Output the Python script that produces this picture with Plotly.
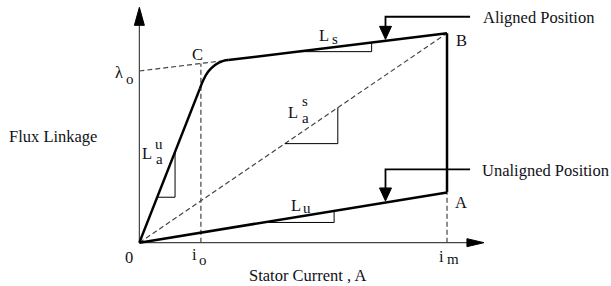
import plotly.graph_objects as go

# ---------------- data (schematic units) ----------------
i_o = 2.0          # current at knee point C
i_m = 10.0         # maximum current
lambda_o = 8.2     # intercept of saturated aligned slope
flux_B = 10.0      # aligned flux at i_m
flux_A = 2.4       # unaligned flux at i_m

# aligned magnetisation curve: linear part, knee, saturated part
lin_x = [0.0, 1.97]
lin_y = [0.0, 7.37]
knee_x = [1.97, 2.08, 2.24, 2.46, 2.73, 2.89]
knee_y = [7.37, 7.77, 8.17, 8.49, 8.68, 8.72]
sat_x = [2.89, i_m]
sat_y = [8.72, flux_B]

x_axis_end = 11.2
y_axis_end = 11.24

# slope-triangle spans along each line (x start, x end)
tri_lau = [0.58, 1.16]
tri_las = [4.73, 6.45]
tri_ls = [5.13, 7.55]
tri_lu = [4.02, 6.33]

# pointer arrows (x of drop, x of label end, y of horizontal leader)
ptr_x = 8.0
ptr_end = 10.75
ptr_aligned_y = 10.79
ptr_unaligned_y = 3.5

# ---------------- layout scale ----------------
W, H = 611, 286
X_RANGE = [-4.53, 15.33]
Y_RANGE = [-2.07, 11.59]
PX_X = W / (X_RANGE[1] - X_RANGE[0])
PX_Y = H / (Y_RANGE[1] - Y_RANGE[0])

FONT = "Liberation Serif, Times New Roman, serif"
INK = "#111118"
GRAY = "#444444"

fig = go.Figure()


def line(xs, ys, width=2.5, color="#000000", dash=None, shape="linear"):
    fig.add_trace(go.Scatter(x=xs, y=ys, mode="lines",
                             line=dict(color=color, width=width, dash=dash, shape=shape),
                             hoverinfo="skip", showlegend=False))


def head(tx, ty, ux, uy, length, width, color="#000000"):
    # ux, uy: direction in pixel space (y up); length/width in px
    bx, by = -ux * length, -uy * length
    px_, py_ = -uy * width / 2, ux * width / 2
    xs = [tx, tx + (bx + px_) / PX_X, tx + (bx - px_) / PX_X, tx]
    ys = [ty, ty + (by + py_) / PX_Y, ty + (by - py_) / PX_Y, ty]
    fig.add_trace(go.Scatter(x=xs, y=ys, mode="lines", fill="toself",
                             fillcolor=color, line=dict(color=color, width=1),
                             hoverinfo="skip", showlegend=False))


def on_line(x0, y0, x1, y1, x):
    return y0 + (y1 - y0) * (x - x0) / (x1 - x0)


def slope_tri(x0, y0, x1, y1, span):
    xa, xb = span
    ya, yb = on_line(x0, y0, x1, y1, xa), on_line(x0, y0, x1, y1, xb)
    line([xa, xb, xb], [ya, ya, yb], width=1, color="#000000")


# axes
line([0, x_axis_end - 17 / PX_X], [0, 0], width=1.2, color=GRAY)
line([0, 0], [0, y_axis_end - 18 / PX_Y], width=1.2, color=GRAY)
head(x_axis_end, 0, 1, 0, 17, 8)
head(0, y_axis_end, 0, 1, 18, 10)

# dashed construction lines
DASH = "5px,3px"
lam_c = on_line(sat_x[0], sat_y[0], sat_x[1], sat_y[1], i_o)
line([0, sat_x[0]], [lambda_o, sat_y[0]], width=1.2, color=GRAY, dash=DASH)
line([i_o, i_o], [0, lam_c], width=1.2, color=GRAY, dash=DASH)
line([0, i_m], [0, flux_B], width=1.2, color=GRAY, dash=DASH)
line([i_m, i_m], [0, flux_A], width=1.2, color=GRAY, dash=DASH)

# slope triangles
slope_tri(lin_x[0], lin_y[0], lin_x[1], lin_y[1], tri_lau)
slope_tri(0, 0, i_m, flux_B, tri_las)
slope_tri(sat_x[0], sat_y[0], sat_x[1], sat_y[1], tri_ls)
slope_tri(0, 0, i_m, flux_A, tri_lu)

# main curves
line(lin_x, lin_y)
line(knee_x, knee_y, shape="spline")
line(sat_x, sat_y)
line([i_m, i_m], [flux_B, flux_A])
line([0, i_m], [0, flux_A])

# pointer arrows
tip_al = on_line(sat_x[0], sat_y[0], sat_x[1], sat_y[1], ptr_x)
tip_un = on_line(0, 0, i_m, flux_A, ptr_x)
line([ptr_end, ptr_x, ptr_x], [ptr_aligned_y, ptr_aligned_y, tip_al + 12 / PX_Y], width=1.8)
head(ptr_x, tip_al + 1.5 / PX_Y, 0, -1, 13, 12)
line([ptr_end, ptr_x, ptr_x], [ptr_unaligned_y, ptr_unaligned_y, tip_un + 12 / PX_Y], width=1.8)
head(ptr_x, tip_un + 1.5 / PX_Y, 0, -1, 13, 12)


# ---------------- text ----------------
def txt(s, px, py, size=16.5):
    fig.add_annotation(text=s, x=px / W, y=1 - py / H, xref="paper", yref="paper",
                       showarrow=False, xanchor="center", yanchor="middle",
                       font=dict(family=FONT, size=size, color=INK))


txt("Flux Linkage", 53, 137)
txt("Stator Current , A", 307, 275)
txt("0", 129, 257)
txt("i", 194, 254)
txt("o", 203, 260, 15)
txt("i", 441, 256)
txt("m", 453, 259, 15)
txt("λ", 119, 73)
txt("o", 130, 79, 15)
txt("C", 197, 55)
txt("B", 461, 40)
txt("A", 461, 202)
txt("Aligned Position", 538, 18)
txt("Unaligned Position", 545, 170)
txt("L", 324, 35)
txt("s", 335, 39, 15)
txt("L", 296, 205)
txt("u", 307, 208, 15)
txt("L", 293, 112)
txt("s", 305, 101, 15)
txt("a", 305, 118, 15)
txt("L", 147, 153)
txt("u", 159, 144, 15)
txt("a", 159, 159, 15)

fig.update_layout(
    width=W, height=H,
    margin=dict(l=0, r=0, t=0, b=0),
    paper_bgcolor="white", plot_bgcolor="white",
    xaxis=dict(range=X_RANGE, visible=False, fixedrange=True),
    yaxis=dict(range=Y_RANGE, visible=False, fixedrange=True),
    showlegend=False,
)

fig.write_html("out.html",
               config={"displayModeBar": False, "staticPlot": True},
               post_script="document.body.style.margin='0';document.body.style.overflow='hidden';")
